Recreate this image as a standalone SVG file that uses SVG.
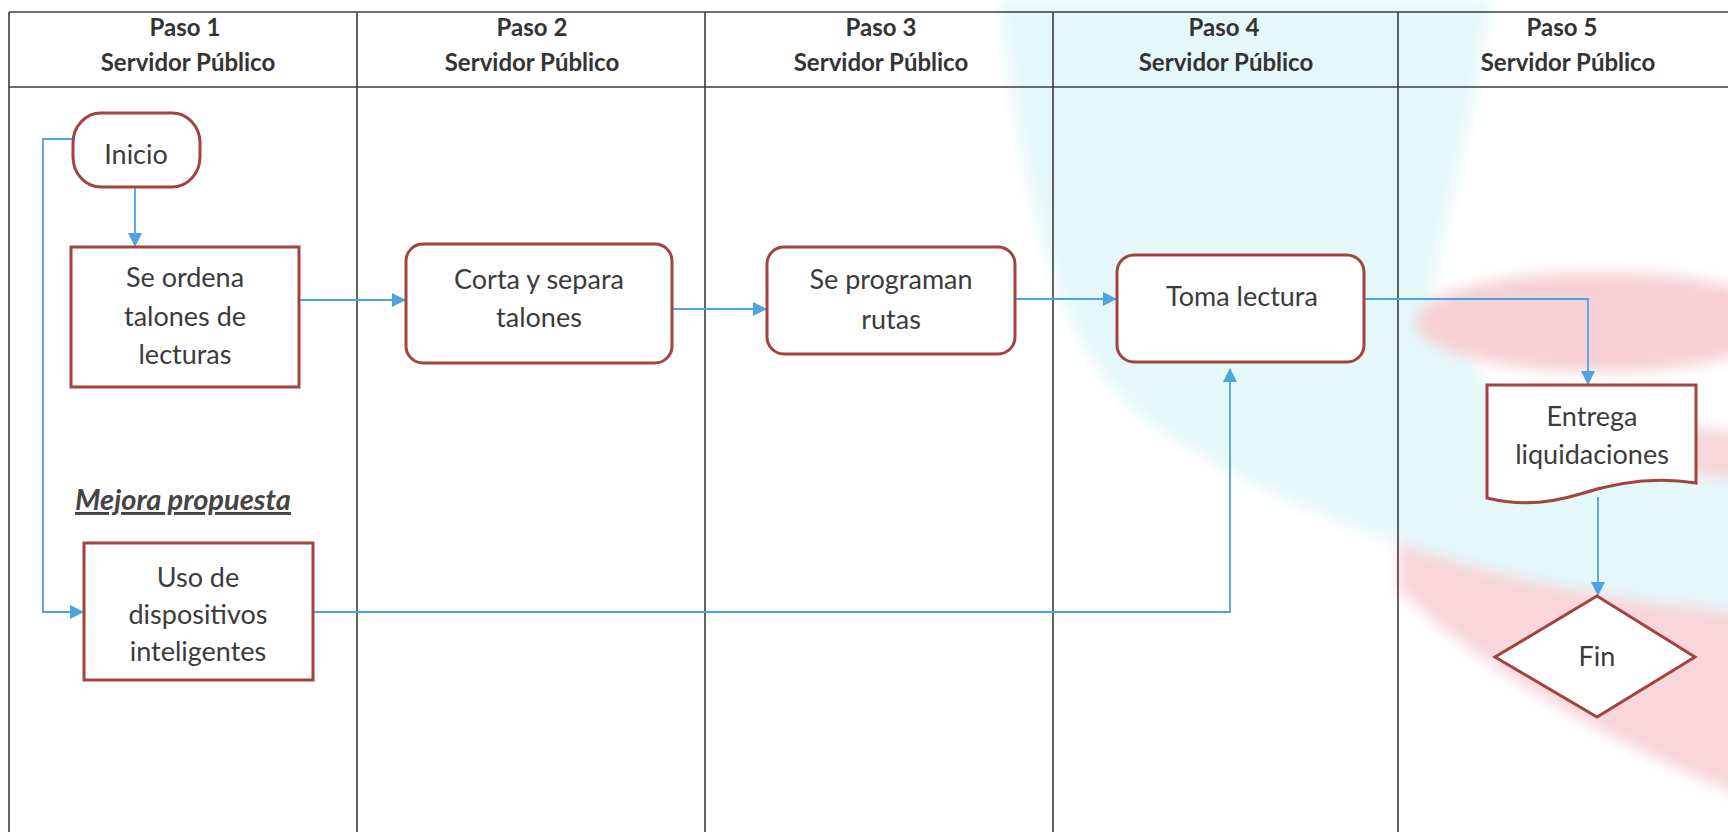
<svg xmlns="http://www.w3.org/2000/svg" width="1728" height="832" viewBox="0 0 1728 832">
<defs>
<marker id="arr" markerUnits="userSpaceOnUse" markerWidth="14" markerHeight="14" viewBox="0 0 14 14" refX="13" refY="7" orient="auto">
<path d="M0,0 L14,7 L0,14 Z" fill="#4ea3e2"/>
</marker>
<filter id="soft" x="-10%" y="-10%" width="120%" height="120%">
<feGaussianBlur stdDeviation="7"/>
</filter>
<style>
.grid{stroke:#3c3c3c;stroke-width:1.6;fill:none}
.hdr{font-family:Lato,"Liberation Sans",sans-serif;font-weight:bold;font-size:24px;fill:#333;text-anchor:middle}
.node{fill:#ffffff;stroke:#a3423f;stroke-width:3}
.txt{font-family:Lato,"Liberation Sans",sans-serif;font-size:27px;fill:#3b3b3b;text-anchor:middle}
.conn{stroke:#4ea3e2;stroke-width:1.8;fill:none}
.note{font-family:Lato,"Liberation Sans",sans-serif;font-weight:bold;font-style:italic;font-size:29px;fill:#444;text-anchor:middle;text-decoration:underline}
</style>
</defs>
<rect x="0" y="0" width="1728" height="832" fill="#ffffff"/>
<g id="watermark" filter="url(#soft)">
<path d="M1460,440 C1560,420 1680,425 1740,432 L1740,795 C1600,740 1480,665 1398,590 L1398,470 C1420,455 1440,445 1460,440 Z" fill="#f8d6da"/>
<path d="M1000,0 L1490,0 C1470,140 1440,230 1430,300 C1490,420 1600,470 1740,480 L1740,612 C1540,595 1330,540 1160,430 C1070,370 1030,250 1000,0 Z" fill="#e4f8f9"/>
<ellipse cx="1600" cy="322" rx="185" ry="50" fill="#f6d0d5"/>
</g>
<g id="table">
<line class="grid" x1="9" y1="12" x2="1728" y2="12"/>
<line class="grid" x1="9" y1="87" x2="1728" y2="87"/>
<line class="grid" x1="9" y1="12" x2="9" y2="832"/>
<line class="grid" x1="357" y1="12" x2="357" y2="832"/>
<line class="grid" x1="705" y1="12" x2="705" y2="832"/>
<line class="grid" x1="1053" y1="12" x2="1053" y2="832"/>
<line class="grid" x1="1398" y1="12" x2="1398" y2="832"/>
<text class="hdr" x="185" y="36">Paso 1</text>
<text class="hdr" x="188" y="71">Servidor Público</text>
<text class="hdr" x="532" y="36">Paso 2</text>
<text class="hdr" x="532" y="71">Servidor Público</text>
<text class="hdr" x="881" y="36">Paso 3</text>
<text class="hdr" x="881" y="71">Servidor Público</text>
<text class="hdr" x="1224" y="36">Paso 4</text>
<text class="hdr" x="1226" y="71">Servidor Público</text>
<text class="hdr" x="1562" y="36">Paso 5</text>
<text class="hdr" x="1568" y="71">Servidor Público</text>
</g>
<g id="connectors">
<path class="conn" d="M135,187 L135,246" marker-end="url(#arr)"/>
<path class="conn" d="M299,300 L405,300" marker-end="url(#arr)"/>
<path class="conn" d="M672,309 L766,309" marker-end="url(#arr)"/>
<path class="conn" d="M1015,299 L1116,299" marker-end="url(#arr)"/>
<path class="conn" d="M1364,299 L1588,299 L1588,384" marker-end="url(#arr)"/>
<path class="conn" d="M1598,497 L1598,595" marker-end="url(#arr)"/>
<path class="conn" d="M73,139 L43,139 L43,612 L83,612" marker-end="url(#arr)"/>
<path class="conn" d="M313,612 L1230,612 L1230,369" marker-end="url(#arr)"/>
</g>
<g id="inicio">
<rect class="node" x="73" y="113" width="127" height="74" rx="28" ry="30"/>
<text class="txt" x="136" y="164">Inicio</text>
</g>
<g id="ordena">
<rect class="node" x="71" y="247" width="228" height="140"/>
<text class="txt" x="185" y="287">Se ordena</text>
<text class="txt" x="185" y="326">talones de</text>
<text class="txt" x="185" y="364">lecturas</text>
</g>
<g id="corta">
<rect class="node" x="406" y="244" width="266" height="119" rx="17"/>
<text class="txt" x="539" y="289">Corta y separa</text>
<text class="txt" x="539" y="327">talones</text>
</g>
<g id="programan">
<rect class="node" x="767" y="247" width="248" height="107" rx="17"/>
<text class="txt" x="891" y="289">Se programan</text>
<text class="txt" x="891" y="329">rutas</text>
</g>
<g id="toma">
<rect class="node" x="1117" y="255" width="247" height="107" rx="17"/>
<text class="txt" x="1242" y="306">Toma lectura</text>
</g>
<g id="entrega">
<path class="node" d="M1487,385 L1696,385 L1696,483 C1660,477 1620,481 1580,494 C1545,505 1515,505 1487,498 Z"/>
<text class="txt" x="1592" y="426">Entrega</text>
<text class="txt" x="1592" y="464">liquidaciones</text>
</g>
<g id="fin">
<polygon class="node" points="1597,596 1695,657 1597,717 1495,657"/>
<text class="txt" x="1597" y="666">Fin</text>
</g>
<g id="mejora">
<text class="note" x="183" y="510">Mejora propuesta</text>
</g>
<g id="uso">
<rect class="node" x="84" y="543" width="229" height="137"/>
<text class="txt" x="198" y="587">Uso de</text>
<text class="txt" x="198" y="624">dispositivos</text>
<text class="txt" x="198" y="661">inteligentes</text>
</g>
</svg>
